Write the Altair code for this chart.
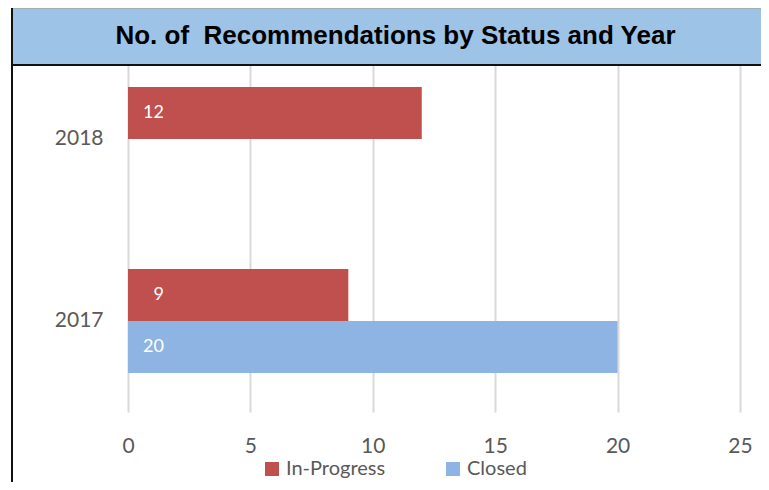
import altair as alt
import pandas as pd

# ---- data ----
years = ["2018", "2017"]
statuses = ["In-Progress", "Closed"]
row_year = ["2018", "2017", "2017"]
row_status = ["In-Progress", "In-Progress", "Closed"]
row_value = [12, 9, 20]
x_ticks = [0, 5, 10, 15, 20, 25]
title_text = "No. of\u00a0\u00a0Recommendations by Status and Year"
colors = ["#C0504D", "#8EB4E3"]

df = pd.DataFrame({"year": row_year, "status": row_status, "value": row_value})

LABEL_GRAY = "#595959"
W, H = 612, 364

y_enc = alt.Y(
    "year:N",
    sort=years,
    scale=alt.Scale(domain=years, paddingInner=0.4286, paddingOuter=0.2143),
    axis=alt.Axis(
        title=None, ticks=False, domain=False, labelPadding=25,
        labelFont="Lato", labelFontSize=21, labelColor=LABEL_GRAY,
    ),
)
yoff_enc = alt.YOffset(
    "status:N", sort=statuses,
    scale=alt.Scale(domain=statuses, paddingInner=0, paddingOuter=0),
)
x_enc = alt.X(
    "value:Q",
    scale=alt.Scale(domain=[0, 25], nice=False),
    axis=alt.Axis(
        title=None, values=x_ticks, ticks=False, domain=False, grid=True,
        gridColor="#D9D9D9", gridWidth=2, labelPadding=23,
        labelFont="Lato", labelFontSize=21, labelColor=LABEL_GRAY,
        labelFlush=False,
    ),
)

bars = alt.Chart(df).mark_bar(size=52).encode(
    y=y_enc,
    yOffset=yoff_enc,
    x=x_enc,
    color=alt.Color(
        "status:N",
        sort=statuses,
        scale=alt.Scale(domain=statuses, range=colors),
        legend=alt.Legend(
            title=None, orient="none", direction="horizontal",
            legendX=134, legendY=411, symbolType="square", symbolSize=196,
            symbolStrokeWidth=0, labelFont="Lato", labelFontSize=20,
            labelColor=LABEL_GRAY, labelOffset=4, columnPadding=57, padding=0,
        ),
    ),
)

labels = alt.Chart(df).mark_text(
    align="right", baseline="middle", dx=36, font="Lato", fontSize=18, color="white"
).encode(
    y=alt.Y("year:N", sort=years),
    yOffset=alt.YOffset("status:N", sort=statuses),
    x=alt.datum(0),
    text="value:Q",
)

deco = alt.Data(values=[{"k": 1}])

title_bg = alt.Chart(deco).mark_rect(color="#9DC3E6").encode(
    x=alt.value(-117), x2=alt.value(660), y=alt.value(-40), y2=alt.value(17)
)
title_top = alt.Chart(deco).mark_rule(color="#A6A6A6", strokeWidth=1.5).encode(
    x=alt.value(-117), x2=alt.value(660), y=alt.value(-40)
)
title_bottom = alt.Chart(deco).mark_rule(color="#111111", strokeWidth=2).encode(
    x=alt.value(-117), x2=alt.value(660), y=alt.value(17)
)
left_line = alt.Chart(deco).mark_rule(color="#111111", strokeWidth=2).encode(
    x=alt.value(-116), y=alt.value(-40), y2=alt.value(450)
)
title = alt.Chart(deco).mark_text(
    text=title_text, font="Liberation Sans", fontWeight="bold", fontSize=26,
    align="center", baseline="alphabetic", color="black",
).encode(x=alt.value(267.5), y=alt.value(-3.7))

chart = alt.layer(
    bars, labels, title_bg, title_top, title_bottom, left_line, title
).properties(
    width=W, height=H,
    autosize=alt.AutoSizeParams(type="none"),
    padding={"left": 120, "top": 40, "right": 21, "bottom": 70},
).configure_view(stroke=None).resolve_scale(x="shared", y="shared")

chart.save("out.html", embed_options={"renderer": "svg", "actions": False})
